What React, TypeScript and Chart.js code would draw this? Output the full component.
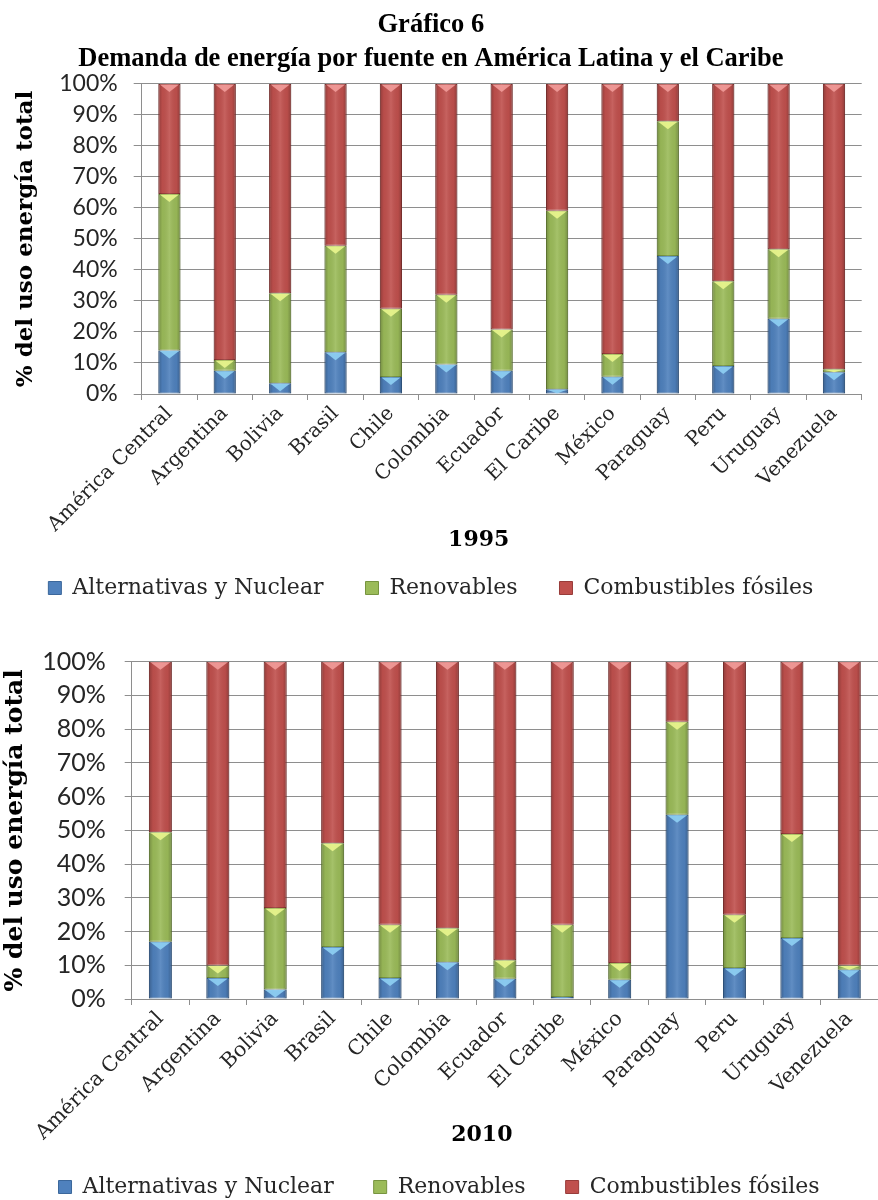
import React, { useEffect, useRef } from 'react';
import { Chart, registerables } from 'chart.js';

Chart.register(...registerables);

const categories = [
  'América Central', 'Argentina', 'Bolivia', 'Brasil', 'Chile', 'Colombia', 'Ecuador',
  'El Caribe', 'México', 'Paraguay', 'Peru', 'Uruguay', 'Venezuela',
];
const seriesNames = ['Alternativas y Nuclear', 'Renovables', 'Combustibles fósiles'];

const alt1995 = [14, 7.5, 3.5, 13.5, 5.5, 9.5, 7.5, 1.5, 5.6, 44.5, 9, 24.3, 7];
const ren1995 = [50.5, 3.5, 29, 34.3, 22, 22.5, 13.3, 57.6, 7.3, 43.5, 27.4, 22.4, 1];
const fos1995 = [35.5, 89, 67.5, 52.2, 72.5, 68, 79.2, 40.9, 87.1, 12, 63.6, 53.3, 92];

const alt2010 = [17, 6.2, 2.8, 15.4, 6.2, 10.9, 6, 0.6, 5.7, 54.6, 9.2, 18.1, 8.7];
const ren2010 = [32.4, 3.7, 24.2, 30.8, 15.8, 10.1, 5.5, 21.4, 5, 27.6, 15.8, 30.8, 1.2];
const fos2010 = [50.6, 90.1, 73, 53.8, 78, 79, 88.5, 78, 89.3, 17.8, 75, 51.1, 90.1];

const yTickLabels = ['0%', '10%', '20%', '30%', '40%', '50%', '60%', '70%', '80%', '90%', '100%'];
const titleLines = ['Gráfico 6', 'Demanda de energía por fuente en América Latina y el Caribe'];
const yAxisTitle = '% del uso energía total';
const years = ['1995', '2010'];

const BASE = ['#4f81bd', '#9bbb59', '#c0504d'];
const DARK = ['#3b679b', '#77943f', '#983c3a'];
const LIGHT = ['#8fd0f4', '#eaf68e', '#f29c9a'];
const GRID = '#8e8e8e';
const TEXT = '#262626';

const bevelPlugin = {
  id: 'bevel',
  beforeDraw(chart: any) {
    // let the rotated category labels run past the bottom of the x-axis box, as in the original
    const xs = chart.scales.x;
    if (xs) xs._computeLabelArea = () => undefined;
  },
  afterDatasetsDraw(chart: any) {
    const ctx = chart.ctx;
    ctx.save();
    chart.data.datasets.forEach((ds: any, di: number) => {
      const meta = chart.getDatasetMeta(di);
      if (meta.hidden) return;
      meta.data.forEach((bar: any) => {
        const { x, y, base, width } = bar.getProps(['x', 'y', 'base', 'width'], true);
        const left = x - width / 2;
        const right = x + width / 2;
        const top = Math.min(y, base);
        const bottom = Math.max(y, base);
        const h = bottom - top;
        if (h <= 0.5) return;
        const g = ctx.createLinearGradient(left, 0, right, 0);
        g.addColorStop(0, 'rgba(0,0,0,0.25)');
        g.addColorStop(0.18, 'rgba(0,0,0,0.04)');
        g.addColorStop(0.5, 'rgba(255,255,255,0.10)');
        g.addColorStop(0.82, 'rgba(0,0,0,0.04)');
        g.addColorStop(1, 'rgba(0,0,0,0.25)');
        ctx.fillStyle = g;
        ctx.fillRect(left, top, width, h);
        const th = Math.min(8, h);
        ctx.beginPath();
        ctx.moveTo(left + 1.5, top + 0.5);
        ctx.lineTo(right - 1.5, top + 0.5);
        ctx.lineTo(x, top + th);
        ctx.closePath();
        ctx.globalAlpha = 0.9;
        ctx.fillStyle = LIGHT[di];
        ctx.fill();
        ctx.globalAlpha = 1;
      });
    });
    ctx.restore();
  },
};

type P = {
  alt: number[]; ren: number[]; fos: number[];
  year: string;
  showTitle: boolean;
  padTop: number; padRight: number;
  yWidth: number; xHeight: number;
  yTickSize: number; yTickPad: number; yTickLen: number;
  yTitleSize: number; yTitlePad: number;
  xTickSize: number;
  xTitlePadB: number;
  legendSize: number; legendPad: number;
};

function buildConfig(p: P): any {
  const mk = (i: number, data: number[]) => ({
    label: seriesNames[i],
    data,
    backgroundColor: BASE[i],
    borderColor: DARK[i],
    borderWidth: 1,
    borderSkipped: false,
    barPercentage: 0.8,
    categoryPercentage: 0.5,
  });
  return {
    type: 'bar',
    data: {
      labels: categories,
      datasets: [mk(0, p.alt), mk(1, p.ren), mk(2, p.fos)],
    },
    plugins: [bevelPlugin],
    options: {
      animation: false,
      responsive: false,
      layout: { padding: { top: p.padTop, left: 0, right: p.padRight, bottom: 0 } },
      plugins: {
        tooltip: { enabled: false },
        title: {
          display: p.showTitle,
          text: titleLines,
          color: '#000',
          font: { family: 'Liberation Serif', size: 26.5, weight: 'bold', lineHeight: 1.283 },
          padding: { top: 8, bottom: 8 },
        },
        legend: {
          display: true,
          position: 'bottom',
          labels: {
            boxWidth: 13,
            boxHeight: 13,
            padding: p.legendPad,
            color: TEXT,
            font: { family: 'DejaVu Serif', size: p.legendSize },
          },
        },
      },
      scales: {
        x: {
          stacked: true,
          grid: { display: true, drawOnChartArea: false, drawTicks: true, tickLength: 6, color: GRID, offset: true },
          border: { display: true, color: GRID },
          ticks: {
            autoSkip: false,
            minRotation: 45,
            maxRotation: 45,
            padding: 2,
            color: TEXT,
            font: { family: 'DejaVu Serif', size: p.xTickSize },
          },
          title: {
            display: true,
            // trailing spaces nudge the centred year label left, as in the original
            text: p.year + '      ',
            color: '#000',
            font: { family: 'DejaVu Serif', size: 22, weight: 'bold' },
            padding: { top: 0, bottom: p.xTitlePadB },
          },
          afterFit: (s: any) => { s.height = p.xHeight; },
        },
        y: {
          stacked: true,
          min: 0,
          max: 100,
          grid: { color: GRID, tickLength: p.yTickLen, drawTicks: true },
          border: { display: true, color: GRID },
          ticks: {
            stepSize: 10,
            autoSkip: false,
            padding: p.yTickPad,
            color: TEXT,
            font: { family: 'Lato', size: p.yTickSize },
            callback: (v: number) => yTickLabels[Math.round(v / 10)],
          },
          title: {
            display: true,
            text: yAxisTitle,
            color: '#000',
            font: { family: 'DejaVu Serif', size: p.yTitleSize, weight: 'bold' },
            padding: { top: p.yTitlePad, bottom: 0 },
          },
          afterFit: (s: any) => { s.width = p.yWidth; },
        },
      },
    },
  };
}

export default function App() {
  const r1 = useRef<HTMLCanvasElement>(null);
  const r2 = useRef<HTMLCanvasElement>(null);
  useEffect(() => {
    const c1 = new Chart(r1.current as HTMLCanvasElement, buildConfig({
      alt: alt1995, ren: ren1995, fos: fos1995, year: years[0], showTitle: true,
      padTop: 0, padRight: 16.3, yWidth: 141.7, xHeight: 141,
      yTickSize: 23, yTickPad: 16, yTickLen: 8, yTitleSize: 23, yTitlePad: 12,
      xTickSize: 20, xTitlePadB: -18.2, legendSize: 22, legendPad: 42,
    }));
    const c2 = new Chart(r2.current as HTMLCanvasElement, buildConfig({
      alt: alt2010, ren: ren2010, fos: fos2010, year: years[1], showTitle: false,
      padTop: 49.7, padRight: 0, yWidth: 131.7, xHeight: 137,
      yTickSize: 25, yTickPad: 19, yTickLen: 7, yTitleSize: 25, yTitlePad: 0,
      xTickSize: 20.5, xTitlePadB: -12.2, legendSize: 22, legendPad: 40,
    }));
    return () => { c1.destroy(); c2.destroy(); };
  }, []);
  return (
    <div style={{ position: 'absolute', left: 0, top: 0, width: 878, height: 1200, overflow: 'hidden', background: '#fff' }}>
      <canvas ref={r1} width={878} height={609} style={{ position: 'absolute', left: 0, top: 0 }} />
      <canvas ref={r2} width={878} height={596} style={{ position: 'absolute', left: 0, top: 612 }} />
    </div>
  );
}
